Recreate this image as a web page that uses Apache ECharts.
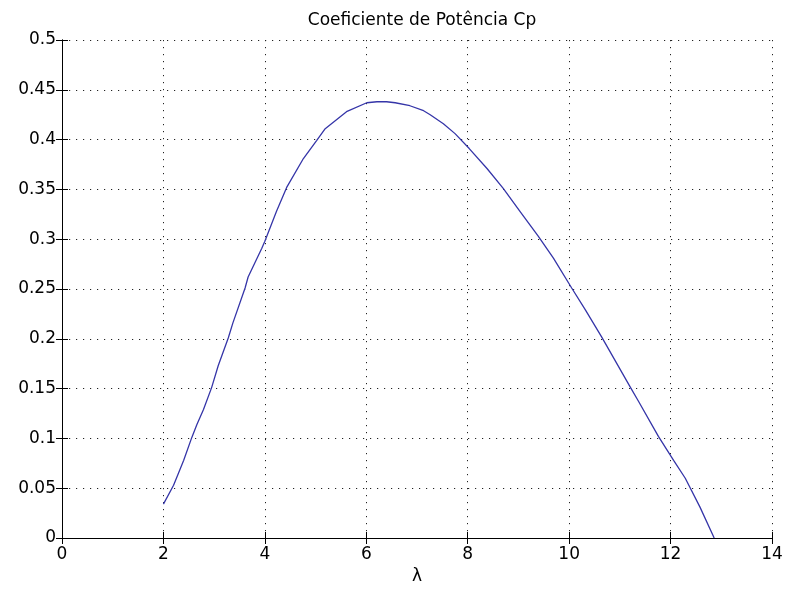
<!DOCTYPE html>
<html>
<head>
<meta charset="utf-8">
<script src="https://cdn.jsdelivr.net/npm/echarts@6/dist/echarts.min.js"></script>
<style>html,body{margin:0;padding:0;background:#fff}#c{width:787px;height:590px}</style>
</head>
<body>
<div id="c"></div>
<script>
const titleText = 'Coeficiente de Potência Cp';
const xLabel = 'λ';
const lambda = [2.0, 2.2, 2.4, 2.56, 2.66, 2.79, 2.95, 3.08, 3.28, 3.37, 3.61, 3.67, 3.94, 4.0, 4.23, 4.43, 4.76, 5.02, 5.19, 5.61, 6.01, 6.21, 6.4, 6.57, 6.86, 7.13, 7.26, 7.52, 7.75, 8.03, 8.38, 8.70, 9.03, 9.39, 9.69, 10.05, 10.32, 10.64, 11.2, 11.37, 11.76, 12.06, 12.29, 12.58, 12.86];
const cp = [0.034, 0.053, 0.078, 0.101, 0.114, 0.129, 0.151, 0.173, 0.201, 0.216, 0.251, 0.262, 0.291, 0.298, 0.328, 0.352, 0.381, 0.399, 0.411, 0.428, 0.437, 0.438, 0.438, 0.437, 0.434, 0.429, 0.425, 0.416, 0.406, 0.391, 0.371, 0.351, 0.328, 0.303, 0.281, 0.251, 0.229, 0.202, 0.152, 0.137, 0.102, 0.078, 0.060, 0.031, 0.0];
const xMin = 0, xMax = 14, xStep = 2;
const yMin = 0, yMax = 0.5, yStep = 0.05;

const chart = echarts.init(document.getElementById('c'), null, {renderer: 'canvas'});
const font = 'DejaVu Sans';
const gridDash = {color: '#222', width: 1, type: [1.2, 5.8]};
const baseAxisLine = {show: true, lineStyle: {color: '#000', width: 1}};
chart.setOption({
  animation: false,
  backgroundColor: '#fff',
  title: {text: titleText, left: 417, top: 7, textAlign: 'center',
    textStyle: {fontFamily: font, fontSize: 17, fontWeight: 'normal', color: '#000'}},
  grid: {left: 62, right: 15, top: 40, bottom: 49, containLabel: false},
  xAxis: [{
    type: 'value', min: xMin, max: xMax, interval: xStep, position: 'bottom',
    name: xLabel, nameLocation: 'middle', nameGap: 30,
    nameTextStyle: {fontFamily: font, fontSize: 17, color: '#000'},
    axisLine: baseAxisLine,
    axisTick: {show: true, inside: true, length: 6, lineStyle: {color: '#000'}},
    axisLabel: {fontFamily: font, fontSize: 17, color: '#000', margin: 8},
    splitLine: {show: true, lineStyle: gridDash}
  }, {
    type: 'value', min: xMin, max: xMax, interval: xStep, position: 'top',
    axisLine: baseAxisLine,
    axisTick: {show: true, inside: true, length: 6, lineStyle: {color: '#000'}},
    axisLabel: {show: false}, splitLine: {show: false}
  }],
  yAxis: [{
    type: 'value', min: yMin, max: yMax, interval: yStep, position: 'left',
    axisLine: baseAxisLine,
    axisTick: {show: true, inside: true, length: 6, lineStyle: {color: '#000'}},
    axisLabel: {fontFamily: font, fontSize: 17, color: '#000', margin: 6,
      formatter: v => String(+v.toFixed(2))},
    splitLine: {show: true, lineStyle: gridDash}
  }, {
    type: 'value', min: yMin, max: yMax, interval: yStep, position: 'right',
    axisLine: baseAxisLine,
    axisTick: {show: true, inside: true, length: 6, lineStyle: {color: '#000'}},
    axisLabel: {show: false}, splitLine: {show: false}
  }],
  series: [{
    type: 'line', xAxisIndex: 0, yAxisIndex: 0,
    data: lambda.map((x, i) => [x, cp[i]]),
    showSymbol: false, smooth: false,
    lineStyle: {color: '#3535a8', width: 1.3}
  }]
});
</script>
</body>
</html>
